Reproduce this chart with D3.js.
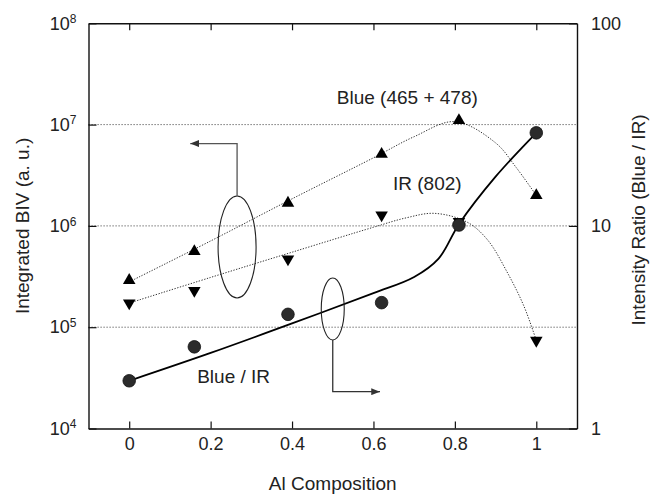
<!DOCTYPE html>
<html>
<head>
<meta charset="utf-8">
<script src="https://cdn.jsdelivr.net/npm/d3@7"></script>
<style>
	body { margin: 0; background: #fff; }
	svg { display: block; font-family: 'Liberation Sans', Arial, Helvetica, sans-serif; }
	.tick line { stroke: #111; stroke-width: 1.2px; }
	.tick text { fill: #222; font-size: 18px; }
	.domain { stroke: #111; stroke-width: 1.4px; }
</style>
</head>
<body>
<div id="chart"></div>
<script>
// values
const composition = [0, 0.16, 0.39, 0.62, 0.81, 1];
const blueBIV = [2.9e5, 5.6e5, 1.68e6, 5.1e6, 1.1e7, 2.0e6];
const irBIV = [1.73e5, 2.3e5, 4.7e5, 1.28e6, 1.1e6, 7.4e4];
const ratio = [1.72, 2.53, 3.66, 4.18, 10.1, 28.8];

// hand drawn fit curves
const blueFit = [[0, 2.8e5], [0.2, 7.1e5], [0.4, 1.85e6], [0.6, 4.7e6], [0.7, 7.6e6], [0.8, 1.07e7], [0.9, 6.6e6], [0.95, 3.8e6], [1, 2.0e6]];
const irFit = [[0, 1.73e5], [0.2, 3.1e5], [0.4, 5.5e5], [0.6, 9.7e5], [0.68, 1.2e6], [0.75, 1.33e6], [0.83, 1.09e6], [0.88, 7.3e5], [0.93, 3.4e5], [0.97, 1.6e5], [1, 7.4e4]];
const ratioFit = [[0, 1.72], [0.2, 2.36], [0.4, 3.3], [0.6, 4.66], [0.7, 5.6], [0.76, 6.9], [0.81, 10.2], [0.9, 17.5], [1, 28.8]];

const xTicks = [0, 0.2, 0.4, 0.6, 0.8, 1];
const leftTicks = [1e4, 1e5, 1e6, 1e7, 1e8];
const rightTicks = [1, 10, 100];
const gridValues = [1e5, 1e6, 1e7];

const WIDTH = 660;
const HEIGHT = 497;
const margin = { top: 23.3, right: 83, bottom: 68.5, left: 88.5 };

const $svg = d3.select('#chart').append('svg')
	.attr('width', WIDTH)
	.attr('height', HEIGHT);

const x = d3.scaleLinear().domain([-0.1, 1.1]).range([margin.left, WIDTH - margin.right]);
const yLeft = d3.scaleLog().domain([1e4, 1e8]).range([HEIGHT - margin.bottom, margin.top]);
const yRight = d3.scaleLog().domain([1, 100]).range([HEIGHT - margin.bottom, margin.top]);

const x0 = x.range()[0];
const x1 = x.range()[1];
const yTop = margin.top;
const yBottom = HEIGHT - margin.bottom;

function drawGrid() {
	$svg.append('g')
		.selectAll('line')
		.data(gridValues)
		.join('line')
		.attr('x1', x0)
		.attr('x2', x1)
		.attr('y1', d => yLeft(d))
		.attr('y2', d => yLeft(d))
		.attr('stroke', '#555')
		.attr('stroke-width', 1)
		.attr('stroke-dasharray', '1.2,1.8');
}

function drawAxes() {
	$svg.append('g')
		.attr('transform', `translate(0,${yBottom})`)
		.call(d3.axisBottom(x).tickValues(xTicks).tickSize(-7).tickSizeOuter(0).tickPadding(9).tickFormat(d3.format('~g')));

	$svg.append('g')
		.attr('transform', `translate(0,${yTop})`)
		.call(d3.axisTop(x).tickValues(xTicks).tickSize(-7).tickSizeOuter(0).tickFormat(''));

	const $left = $svg.append('g')
		.attr('transform', `translate(${x0},0)`)
		.call(d3.axisLeft(yLeft).tickValues(leftTicks).tickSize(-8).tickSizeOuter(0).tickPadding(12));

	// 10 with a raised exponent
	$left.selectAll('.tick text')
		.text('')
		.each(function (d) {
			const $t = d3.select(this);
			$t.append('tspan').text('10');
			$t.append('tspan')
				.attr('dy', '-0.55em')
				.style('font-size', '12px')
				.text(Math.round(Math.log10(d)));
		});

	$svg.append('g')
		.attr('transform', `translate(${x1},0)`)
		.call(d3.axisRight(yRight).tickValues(rightTicks).tickSize(-8).tickSizeOuter(0).tickPadding(14).tickFormat(d3.format('d')));
}

function drawSeries() {
	const lineLeft = d3.line()
		.x(d => x(d[0]))
		.y(d => yLeft(d[1]))
		.curve(d3.curveCatmullRom.alpha(0.5));

	const lineRight = d3.line()
		.x(d => x(d[0]))
		.y(d => yRight(d[1]))
		.curve(d3.curveCatmullRom.alpha(0.5));

	$svg.append('path')
		.datum(blueFit)
		.attr('d', lineLeft)
		.attr('fill', 'none')
		.attr('stroke', '#333')
		.attr('stroke-width', 1)
		.attr('stroke-dasharray', '1.3,1.5');

	$svg.append('path')
		.datum(irFit)
		.attr('d', lineLeft)
		.attr('fill', 'none')
		.attr('stroke', '#333')
		.attr('stroke-width', 1)
		.attr('stroke-dasharray', '1.3,1.5');

	$svg.append('path')
		.datum(ratioFit)
		.attr('d', lineRight)
		.attr('fill', 'none')
		.attr('stroke', '#000')
		.attr('stroke-width', 1.8);

	const tri = d3.symbol(d3.symbolTriangle, 68);

	$svg.append('g')
		.selectAll('path')
		.data(composition)
		.join('path')
		.attr('d', tri)
		.attr('transform', (d, i) => `translate(${x(d)},${yLeft(blueBIV[i])})`)
		.attr('fill', '#000');

	$svg.append('g')
		.selectAll('path')
		.data(composition)
		.join('path')
		.attr('d', tri)
		.attr('transform', (d, i) => `translate(${x(d)},${yLeft(irBIV[i])}) rotate(180)`)
		.attr('fill', '#000');

	$svg.append('g')
		.selectAll('circle')
		.data(composition)
		.join('circle')
		.attr('cx', d => x(d))
		.attr('cy', (d, i) => yRight(ratio[i]))
		.attr('r', 6.3)
		.attr('fill', '#2b2b2b')
		.attr('stroke', '#111')
		.attr('stroke-width', 0.8);
}

function drawAnnotations() {
	$svg.append('defs')
		.append('marker')
		.attr('id', 'arrow')
		.attr('viewBox', '0 0 10 8')
		.attr('refX', 10)
		.attr('refY', 4)
		.attr('markerWidth', 9)
		.attr('markerHeight', 7)
		.attr('markerUnits', 'userSpaceOnUse')
		.attr('orient', 'auto')
		.append('path')
		.attr('d', 'M0,0L10,4L0,8Z')
		.attr('fill', '#333');

	// left bracket: emission series -> left axis
	const cxA = x(0.265);
	const cyA = yLeft(6.2e5);
	$svg.append('ellipse')
		.attr('cx', cxA)
		.attr('cy', cyA)
		.attr('rx', 19)
		.attr('ry', 51)
		.attr('fill', 'none')
		.attr('stroke', '#222')
		.attr('stroke-width', 1.1);

	$svg.append('path')
		.attr('d', `M${cxA},${cyA - 51}V${yLeft(6.5e6)}H${x(0.15)}`)
		.attr('fill', 'none')
		.attr('stroke', '#555')
		.attr('stroke-width', 1.3)
		.attr('marker-end', 'url(#arrow)');

	// right bracket: ratio -> right axis
	const cxB = x(0.5);
	const cyB = yRight(3.89);
	$svg.append('ellipse')
		.attr('cx', cxB)
		.attr('cy', cyB)
		.attr('rx', 11.5)
		.attr('ry', 31)
		.attr('fill', 'none')
		.attr('stroke', '#222')
		.attr('stroke-width', 1.1);

	$svg.append('path')
		.attr('d', `M${cxB},${cyB + 31}V${yRight(1.52)}H${x(0.616)}`)
		.attr('fill', 'none')
		.attr('stroke', '#333')
		.attr('stroke-width', 1.3)
		.attr('marker-end', 'url(#arrow)');

	const labels = [
		{ text: 'Blue (465 + 478)', x: x(0.51), y: yLeft(1.6e7) },
		{ text: 'IR (802)', x: x(0.648), y: yLeft(2.26e6) },
		{ text: 'Blue / IR', x: x(0.167), y: yRight(1.68) }
	];

	$svg.append('g')
		.selectAll('text')
		.data(labels)
		.join('text')
		.attr('x', d => d.x)
		.attr('y', d => d.y)
		.attr('fill', '#222')
		.style('font-size', '19px')
		.text(d => d.text);
}

function drawTitles() {
	$svg.append('text')
		.attr('x', (x0 + x1) / 2)
		.attr('y', 490)
		.attr('text-anchor', 'middle')
		.attr('fill', '#222')
		.style('font-size', '19px')
		.text('Al Composition');

	$svg.append('text')
		.attr('transform', `translate(29,${(yTop + yBottom) / 2}) rotate(-90)`)
		.attr('text-anchor', 'middle')
		.attr('fill', '#222')
		.style('font-size', '19px')
		.text('Integrated BIV (a. u.)');

	$svg.append('text')
		.attr('transform', `translate(645,${(yTop + yBottom) / 2 - 6}) rotate(-90)`)
		.attr('text-anchor', 'middle')
		.attr('fill', '#222')
		.style('font-size', '19px')
		.text('Intensity Ratio (Blue / IR)');
}

drawGrid();
drawSeries();
drawAnnotations();
drawAxes();
drawTitles();
</script>
</body>
</html>
